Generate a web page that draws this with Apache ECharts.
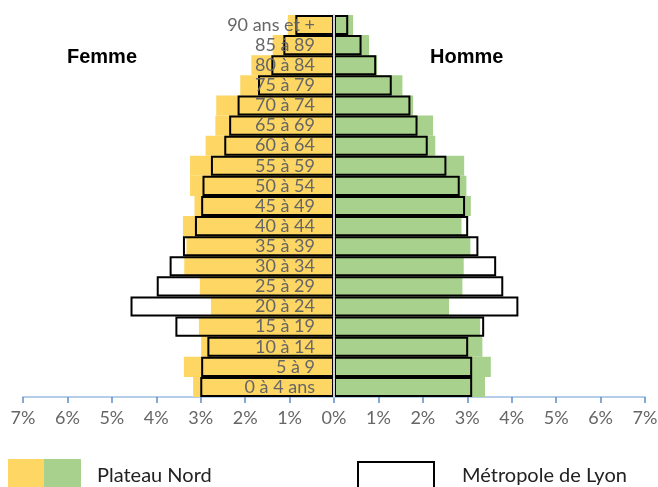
<!DOCTYPE html>
<html>
<head>
<meta charset="utf-8">
<script src="https://cdn.jsdelivr.net/npm/echarts@6/dist/echarts.min.js"></script>
<style>
  html, body { margin: 0; padding: 0; background: #fff; }
  #pyramide { width: 658px; height: 487px; }
</style>
</head>
<body>
<div id="pyramide"></div>
<script>
  // tranches d'âge, du bas vers le haut
  const ages = ["0 à 4 ans", "5 à 9", "10 à 14", "15 à 19", "20 à 24", "25 à 29", "30 à 34",
    "35 à 39", "40 à 44", "45 à 49", "50 à 54", "55 à 59", "60 à 64", "65 à 69", "70 à 74",
    "75 à 79", "80 à 84", "85 à 89", "90 ans et +"];

  // Plateau Nord (%)
  const femmePlateau = [3.17, 3.38, 2.99, 3.04, 2.77, 3.02, 3.37, 3.32, 3.40, 3.14, 3.24, 3.24, 2.89, 2.67, 2.65, 2.11, 1.86, 1.38, 1.04];
  const hommePlateau = [3.40, 3.53, 3.34, 3.29, 2.59, 2.89, 2.92, 3.07, 2.87, 3.08, 2.98, 2.93, 2.28, 2.23, 1.78, 1.54, 0.97, 0.79, 0.43];
  // Métropole de Lyon (%)
  const femmeLyon = [3.01, 2.99, 2.85, 3.57, 4.58, 3.99, 3.70, 3.40, 3.13, 2.99, 2.96, 2.77, 2.47, 2.36, 2.17, 1.71, 1.41, 1.14, 0.87];
  const hommeLyon = [3.11, 3.11, 3.02, 3.38, 4.15, 3.81, 3.65, 3.25, 3.02, 2.95, 2.83, 2.53, 2.11, 1.88, 1.72, 1.30, 0.95, 0.62, 0.32];

  const jaune = "#FDD663";
  const vert = "#A9D18E";

  const chart = echarts.init(document.getElementById("pyramide"));

  // femmes à gauche => valeurs négatives
  const neg = (arr) => arr.map((v) => -v);

  const barPlein = (name, data, color) => ({
    name: name,
    type: "bar",
    data: data,
    barWidth: "100%",
    barGap: "-100%",
    itemStyle: { color: color },
    silent: true,
  });
  const barContour = (name, data) => ({
    name: name,
    type: "bar",
    data: data,
    barWidth: "100%",
    barGap: "-100%",
    z: 3,
    itemStyle: { color: "rgba(0,0,0,0)", borderColor: "#000", borderWidth: 2 },
    silent: true,
  });

  const gridLeft = 23;
  const gridRight = 13;
  // position du 0% dans la grille (milieu de -7..7)
  const milieu = (658 - gridLeft - gridRight) / 2;

  const option = {
    backgroundColor: "#fff",
    animation: false,
    title: [
      {
        text: "Femme",
        left: 62,
        top: 42,
        textStyle: { fontFamily: "Liberation Sans", fontWeight: "bold", fontSize: 20, color: "#000" },
      },
      {
        text: "Homme",
        left: 425,
        top: 42,
        textStyle: { fontFamily: "Liberation Sans", fontWeight: "bold", fontSize: 20, color: "#000" },
      },
    ],
    grid: { left: gridLeft, right: gridRight, top: 15, bottom: 90, containLabel: false, outerBoundsMode: "none" },
    xAxis: {
      type: "value",
      min: -7,
      max: 7,
      interval: 1,
      splitLine: { show: false },
      axisLine: { show: true, lineStyle: { color: "#9DBDE2", width: 1.5 } },
      axisTick: { show: true, length: 6, lineStyle: { color: "#5E8DC8", width: 1.5 } },
      axisLabel: {
        margin: 12,
        fontFamily: "Lato",
        fontSize: 18,
        color: "#666",
        formatter: (v) => Math.abs(v) + "%",
      },
    },
    yAxis: {
      type: "category",
      data: ages,
      z: 5,
      offset: -milieu, // l'axe passe au centre
      axisLine: { show: true, onZero: false, lineStyle: { color: "#D4D4D4", width: 2 } },
      axisTick: { show: false },
      axisLabel: {
        interval: 0,
        margin: 19,
        fontFamily: "Lato",
        fontSize: 18,
        color: "#666",
      },
    },
    series: [
      barPlein("Femme Plateau Nord", neg(femmePlateau), jaune),
      barPlein("Homme Plateau Nord", hommePlateau, vert),
      barContour("Femme Métropole de Lyon", neg(femmeLyon)),
      barContour("Homme Métropole de Lyon", hommeLyon),
    ],
    // légende dessinée à la main (carré bicolore)
    graphic: [
      { type: "rect", shape: { x: 8, y: 459, width: 36, height: 30 }, style: { fill: jaune } },
      { type: "rect", shape: { x: 44, y: 459, width: 37, height: 30 }, style: { fill: vert } },
      {
        type: "text",
        left: 97,
        top: 466,
        style: { text: "Plateau Nord", font: "20px Lato", fill: "#222" },
      },
      {
        type: "rect",
        shape: { x: 358, y: 462, width: 76, height: 30 },
        style: { fill: "#fff", stroke: "#000", lineWidth: 2 },
      },
      {
        type: "text",
        left: 462,
        top: 466,
        style: { text: "Métropole de Lyon", font: "20px Lato", fill: "#222" },
      },
    ],
  };

  chart.setOption(option);
</script>
</body>
</html>
